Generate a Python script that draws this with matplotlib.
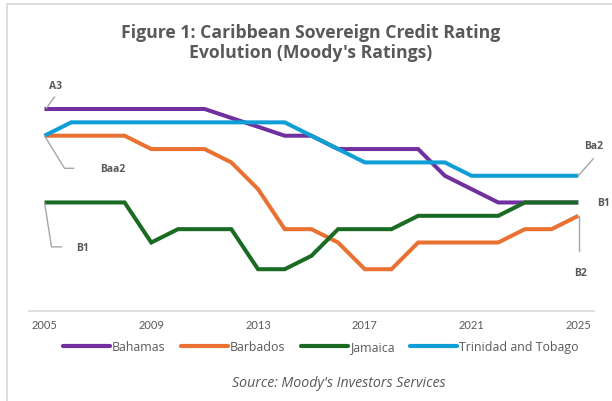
import matplotlib
matplotlib.use("Agg")
import matplotlib.pyplot as plt
from matplotlib.lines import Line2D
from matplotlib.patches import Rectangle

# ---------------- data ----------------
years = list(range(2005, 2026))
tick_years = [2005, 2009, 2013, 2017, 2021, 2025]
# Moody's notch index: A3=12, Baa1=11, Baa2=10, Baa3=9, Ba1=8, Ba2=7, Ba3=6,
# B1=5, B2=4, B3=3, Caa1=2, Caa2=1, Caa3=0
rating_names = ["Caa3", "Caa2", "Caa1", "B3", "B2", "B1", "Ba3", "Ba2",
                "Ba1", "Baa3", "Baa2", "Baa1", "A3"]
bahamas = [12, 12, 12, 12, 12, 12, 12, 11.33, 10.67, 10, 10, 9, 9, 9, 9, 7, 6, 5, 5, 5, 5]
barbados = [10, 10, 10, 10, 9, 9, 9, 8, 6, 3, 3, 2, 0, 0, 2, 2, 2, 2, 3, 3, 4]
jamaica = [5, 5, 5, 5, 2, 3, 3, 3, 0, 0, 1, 3, 3, 3, 4, 4, 4, 4, 5, 5, 5]
trinidad = [10, 11, 11, 11, 11, 11, 11, 11, 11, 11, 10, 9, 8, 8, 8, 8, 7, 7, 7, 7, 7]
series_names = ["Bahamas", "Barbados", "Jamaica", "Trinidad and Tobago"]
series_values = [bahamas, barbados, jamaica, trinidad]
colors = ["#7030A0", "#E97132", "#196B24", "#0F9ED5"]

title = "Figure 1: Caribbean Sovereign Credit Rating\nEvolution (Moody's Ratings)"
source = "Source: Moody's Investors Services"

FONT = "Lato"
FONT2 = "Open Sans"
TXT = "#595959"
W, H = 612, 402

fig = plt.figure(figsize=(W / 100, H / 100), dpi=100)
ax = fig.add_axes([28.5 / W, (H - 312) / H, (594.3 - 28.5) / W, (312 - 75.3) / H])

for name, vals, c in zip(series_names, series_values, colors):
    ax.plot(years, vals, color=c, lw=2.9, label=name, solid_joinstyle="miter",
            solid_capstyle="butt")

ax.set_xlim(2004.4, 2025.6)
ax.set_ylim(-3.13, 14.6)
ax.set_yticks([])
ax.set_xticks(tick_years)
ax.set_xticklabels([str(y) for y in tick_years], fontsize=8, color=TXT,
                   fontfamily=FONT)
ax.tick_params(axis="x", length=0, pad=6)
for s in ["top", "right", "left"]:
    ax.spines[s].set_visible(False)
ax.spines["bottom"].set_color("#d9d9d9")
ax.spines["bottom"].set_linewidth(1.2)

# title and source
fig.text(311 / W, 1 - 43 / H, title, ha="center", va="center", fontsize=12.7,
         fontweight="bold", color=TXT, fontfamily=FONT2, linespacing=1.1)
fig.text(339 / W, 1 - 384 / H, source, ha="center", va="center", fontsize=10.2,
         style="italic", color=TXT, fontfamily=FONT2)

# legend
leg = fig.legend(loc="center", bbox_to_anchor=(321 / W, 1 - 348 / H), ncol=4,
                 frameon=False, handlelength=3.8, handletextpad=0.12,
                 columnspacing=1.3, prop={"family": FONT2, "size": 8.9})
for t in leg.get_texts():
    t.set_color(TXT)
for h in leg.legend_handles:
    h.set_linewidth(3)
    h.set_solid_capstyle("round")

# border of chart area
fig.add_artist(Rectangle((7 / W, -0.05), 1.1, 1.05 - 5 / H, transform=fig.transFigure,
                         fill=False, edgecolor="#d9d9d9", lw=1.3))

# annotations with leader lines (pixel offsets, +y down)
fig.canvas.draw()


def to_fig(px, py):
    return px / W, py / H


def leader(xd, yd, offsets, text, text_off, ha="center"):
    bx, by = ax.transData.transform((xd, yd))
    pts = [to_fig(bx + dx, by - dy) for dx, dy in offsets]
    if len(pts) > 1:
        fig.add_artist(Line2D([p[0] for p in pts], [p[1] for p in pts],
                              transform=fig.transFigure, color="#a6a6a6", lw=1.0))
    tx, ty = to_fig(bx + text_off[0], by - text_off[1])
    fig.text(tx, ty, text, ha=ha, va="center", fontsize=7.5, fontweight="bold",
             color=TXT, fontfamily=FONT2)


leader(years[0], bahamas[0], [(2, -1), (10, -12)], rating_names[bahamas[0]], (10.5, -24))
leader(years[0], barbados[0], [(0, 0), (20, 32.6), (29, 32.6)], rating_names[barbados[0]], (56, 32.6), ha="left")
leader(years[0], jamaica[0], [(0, 0), (7, 44.4), (17, 44.4)], rating_names[jamaica[0]], (31.5, 44.6), ha="left")
leader(years[-1], trinidad[-1], [(0, 0), (15, -17)], rating_names[trinidad[-1]], (15, -30))
leader(years[-1], jamaica[-1], [], rating_names[jamaica[-1]], (19, 0.5), ha="left")
leader(years[-1], barbados[-1], [(1, 0), (1, 35)], rating_names[barbados[-1]], (2, 57))

fig.savefig("out.png", dpi=100)
